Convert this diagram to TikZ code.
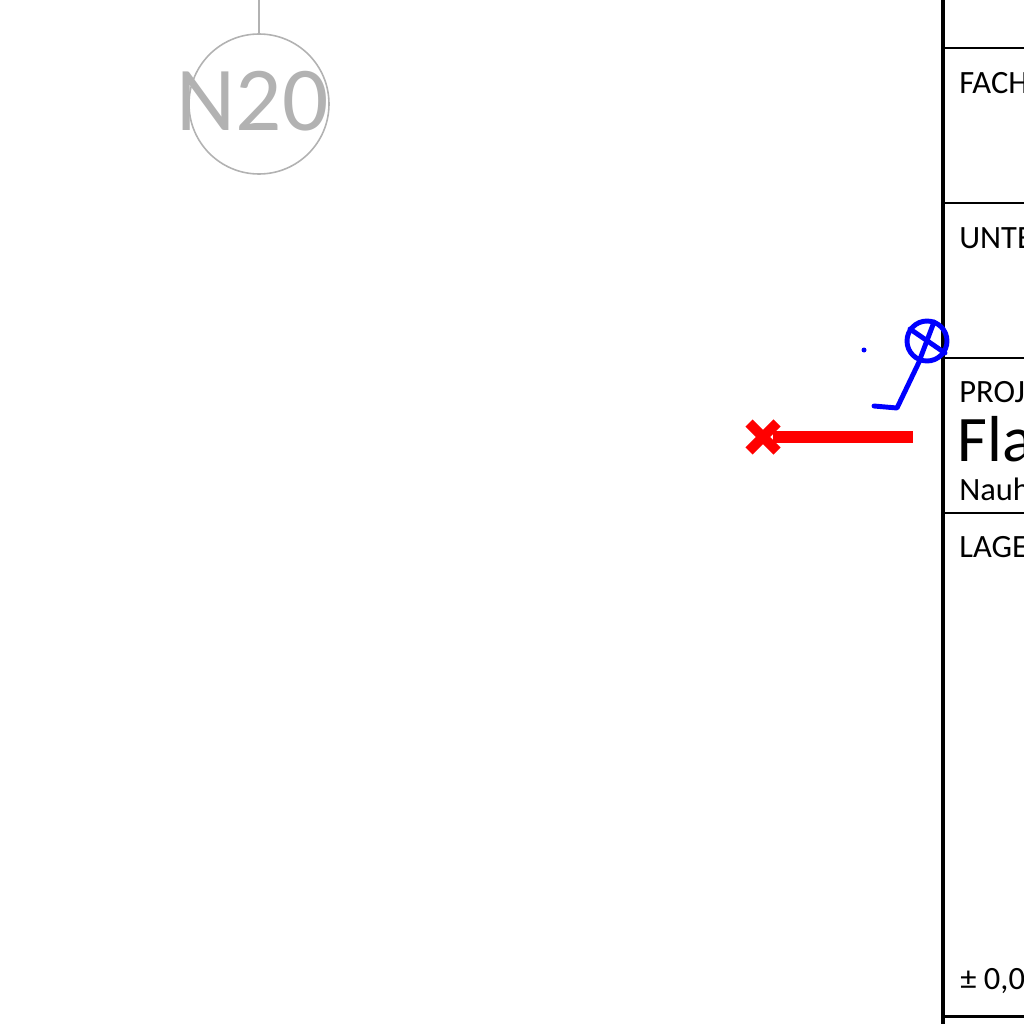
\documentclass[tikz,border=0pt]{standalone}
\usepackage{fontspec}
\setmainfont{Carlito}
\usepackage{tikz}
\usetikzlibrary{positioning}
\definecolor{achsgrau}{RGB}{178,178,178}
\tikzset{
  feldtext/.style={anchor=base west,inner sep=0pt,font=\fontsize{18.5}{22}\selectfont},
  rahmen/.style={line width=1.7pt},
  blaustift/.style={draw=blue,line width=2.8pt,line cap=round,line join=round},
}

\begin{document}
\begin{tikzpicture}[x=0.02cm,y=-0.02cm]
 \useasboundingbox (0,0) rectangle (1024,1024);
 \clip (0,0) rectangle (1024,1024);

 % achse N20
 \draw[achsgrau,line width=0.9pt] (259,0) -- (259,34);
 \draw[achsgrau,line width=0.9pt] (259,104) circle (70);
 \node[achsgrau,inner sep=0pt,font=\fontsize{52}{60}\selectfont] (achse) at (252.5,101.5) {N20};

 % schriftfeld
 \draw[line width=2.3pt] (943,0) -- (943,1024);
 \draw[rahmen] (943,48) -- (1030,48);
 \draw[rahmen] (943,203) -- (1030,203);
 \draw[rahmen] (943,358) -- (1030,358);
 \draw[rahmen] (943,513) -- (1030,513);
 \draw[rahmen] (943,1016) -- (1030,1016);
 \node[feldtext] (fach) at (959,93) {FACH};
 \node[feldtext] (unte) at (959,248) {UNTE};
 \node[feldtext] (proj) at (959,402) {PROJ};
 \node[feldtext,font=\fontsize{37}{44}\selectfont] (titel) at (957,461) {Fla};
 \node[feldtext] (ort) at (959,500) {Nauh};
 \node[feldtext] (lage) at (959,557) {LAGE};
 \node[feldtext] (hoehe) at (960,989) {± 0,0};

 % blaue markierung
 \draw[blaustift] (927,341) circle (20);
 \draw[blaustift] (934,322) -- (920,359);
 \draw[blaustift] (910,329) -- (945,353);
 \draw[blaustift] (920,360) -- (897,408) -- (874,406);
 \fill[blue] (864,350) circle (2.5);

 % rote leitung
 \draw[red,line width=6.3pt] (773,437) -- (913,437);
 \draw[red,line width=5.7pt] (749,423) -- (777,451);
 \draw[red,line width=5.7pt] (749,451) -- (777,423);

\end{tikzpicture}
\end{document}
